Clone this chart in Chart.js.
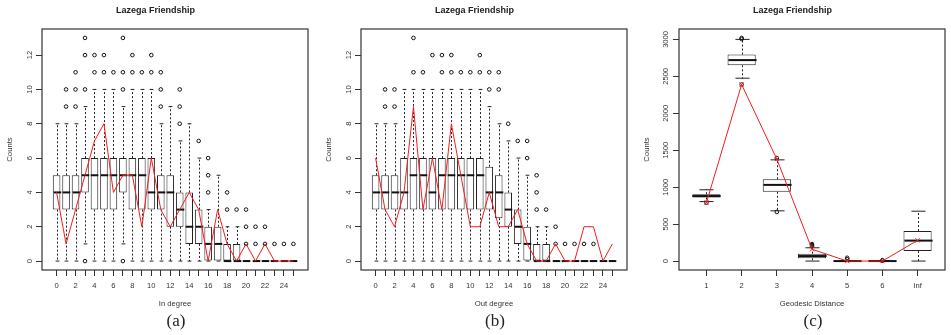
<!DOCTYPE html>
<html lang="en">
<head>
<meta charset="UTF-8">
<title>Lazega Friendship</title>
<script src="https://cdn.jsdelivr.net/npm/chart.js"></script>
<style>
  body { margin: 0; background: #fff; width: 951px; height: 335px; position: relative; overflow: hidden; }
  .panel { position: absolute; top: 0; width: 313px; height: 312px; }
  .cap { position: absolute; top: 311px; width: 40px; line-height: 20px; text-align: center;
         font-family: 'Liberation Serif', 'Times New Roman', serif; font-size: 17px; color: #222; }
</style>
</head>
<body>
<div class="panel" style="left:0px"><canvas id="chartIn"></canvas></div>
<div class="panel" style="left:319px"><canvas id="chartOut"></canvas></div>
<div class="panel" style="left:637px"><canvas id="chartGeo"></canvas></div>
<div class="cap" style="left:156px">(a)</div>
<div class="cap" style="left:475px">(b)</div>
<div class="cap" style="left:793px">(c)</div>
<script>
// degree categories (panels a and b)
const degrees = [0, 1, 2, 3, 4, 5, 6, 7, 8, 9, 10, 11, 12, 13, 14, 15, 16, 17, 18, 19, 20, 21, 22, 23, 24, 25];

// (a) in degree
const inQ1  = [3, 3, 3, 4, 3, 3, 3, 4, 3, 3, 3, 3, 2, 2, 1, 1, 0, 0, 0, 0, 0, 0, 0, 0, 0, 0];
const inMed = [4, 4, 4, 5, 5, 5, 5, 5, 5, 5, 4, 4, 4, 3, 2, 2, 1, 1, 0, 0, 0, 0, 0, 0, 0, 0];
const inQ3  = [5, 5, 5, 6, 6, 6, 6, 6, 6, 6, 6, 5, 5, 4, 4, 3, 2, 2, 1, 1, 0, 0, 0, 0, 0, 0];
const inLo  = [0, 0, 0, 1, 0, 0, 0, 1, 0, 0, 0, 0, 0, 0, 0, 0, 0, 0, 0, 0, 0, 0, 0, 0, 0, 0];
const inHi  = [8, 8, 8, 9, 10, 10, 10, 9, 10, 10, 10, 8, 9, 7, 8, 6, 3, 5, 2, 2, 0, 0, 0, 0, 0, 0];
const inOut = [[], [9, 10], [9, 10, 11], [0, 10, 12, 13], [11, 12], [11, 12], [11], [0, 10, 11, 13],
               [11, 12], [11], [11, 12], [9, 10, 11], [], [8, 9, 10], [], [7], [4, 5, 6], [], [3, 4], [3],
               [1, 2, 3], [1, 2], [1, 2], [1], [1], [1]];
const inObs = [4, 1, 3, 5, 7, 8, 4, 5, 5, 2, 6, 3, 2, 3, 4, 3, 0, 3, 1, 0, 1, 0, 1, 0, 0, 0];

// (b) out degree
const outQ1  = [3, 3, 3, 3, 3, 3, 3, 3, 3, 3, 3, 3, 3, 2.5, 2, 1, 0, 0, 0, 0, 0, 0, 0, 0, 0, 0];
const outMed = [4, 4, 4, 4, 5, 5, 4, 5, 5, 5, 5, 5, 4, 4, 3, 2, 1, 0, 0, 0, 0, 0, 0, 0, 0, 0];
const outQ3  = [5, 5, 5, 6, 6, 6, 6, 6, 6, 6, 6, 6, 5.5, 5, 4, 3, 2, 1, 1, 0, 0, 0, 0, 0, 0, 0];
const outLo  = [0, 0, 0, 0, 0, 0, 0, 0, 0, 0, 0, 0, 0, 0, 0, 0, 0, 0, 0, 0, 0, 0, 0, 0, 0, 0];
const outHi  = [8, 8, 8, 10, 10, 10, 10, 10, 10, 10, 10, 10, 9, 8, 7, 6, 5, 2, 2, 0, 0, 0, 0, 0, 0, 0];
const outOut = [[], [9, 10], [9, 10], [], [11, 13], [11], [12], [11, 12], [11, 12], [11], [11], [11, 12],
                [10, 11], [10, 11], [8], [7], [6, 7], [3, 4, 5], [3], [1, 2], [1], [1], [1], [1], [], []];
const outObs = [6, 3, 2, 4, 9, 3, 6, 3, 8, 5, 2, 2, 4, 2, 2, 3, 1, 0, 0, 1, 0, 0, 2, 2, 0, 1];

// (c) geodesic distance
const geoCats = ['1', '2', '3', '4', '5', '6', 'Inf'];
const geoQ1  = [860, 2650, 937, 37, 0, 0, 136];
const geoMed = [880, 2720, 1031, 68, 0, 0, 277];
const geoQ3  = [905, 2795, 1108, 100, 0, 0, 407];
const geoLo  = [805, 2475, 680, 0, 0, 0, 0];
const geoHi  = [965, 3000, 1370, 180, 0, 0, 675];
const geoOut = [[790], [2390, 3005, 3020], [665, 1395], [200, 215, 230], [25, 45], [5, 12], []];
const geoObs = [790, 2390, 1380, 160, 0, 0, 280];

// y tick values
const countTicks = [0, 2, 4, 6, 8, 10, 12];
const geoTicks = [0, 500, 1000, 1500, 2000, 2500, 3000];

Chart.defaults.font.family = "'Liberation Sans', Arial, sans-serif";
Chart.defaults.color = '#333';

// whiskers, staples, medians and the frame, R boxplot style
const boxLines = {
    id: 'boxLines',
    afterDatasetDraw(chart, args) {
        const ds = chart.data.datasets[args.index];
        if (!ds.stats) return;
        const s = ds.stats;
        const { ctx, scales: { x, y } } = chart;
        ctx.save();
        for (let i = 0; i < s.med.length; i++) {
            const xc = Math.round(x.getPixelForValue(i)) + 0.5;
            const half = x.getPixelForValue(i + 0.4) - x.getPixelForValue(i);
            const cap = half / 2;
            ctx.strokeStyle = '#222';
            ctx.lineWidth = 1;
            ctx.setLineDash([2, 2]);
            ctx.beginPath();
            ctx.moveTo(xc, y.getPixelForValue(s.q1[i]));
            ctx.lineTo(xc, y.getPixelForValue(s.lo[i]));
            ctx.moveTo(xc, y.getPixelForValue(s.q3[i]));
            ctx.lineTo(xc, y.getPixelForValue(s.hi[i]));
            ctx.stroke();
            ctx.setLineDash([]);
            ctx.beginPath();
            ctx.moveTo(xc - cap, y.getPixelForValue(s.lo[i]));
            ctx.lineTo(xc + cap, y.getPixelForValue(s.lo[i]));
            ctx.moveTo(xc - cap, y.getPixelForValue(s.hi[i]));
            ctx.lineTo(xc + cap, y.getPixelForValue(s.hi[i]));
            ctx.stroke();
            ctx.lineWidth = 2;
            ctx.strokeStyle = '#111';
            ctx.beginPath();
            ctx.moveTo(xc - half, y.getPixelForValue(s.med[i]));
            ctx.lineTo(xc + half, y.getPixelForValue(s.med[i]));
            ctx.stroke();
        }
        ctx.restore();
    },
    afterDatasetsDraw(chart) {
        const { ctx, chartArea: a } = chart;
        ctx.save();
        ctx.strokeStyle = '#333';
        ctx.lineWidth = 1.2;
        ctx.strokeRect(a.left, a.top, a.right - a.left, a.bottom - a.top);
        ctx.restore();
    }
};

function makePanel(id, cats, q1, med, q3, lo, hi, out, obs, xTitle, yTicks, labelStep, yPad, marks) {
    const n = cats.length;
    const allVals = lo.concat(hi, out.flat());
    const vmin = Math.min(...allVals);
    const vmax = Math.max(...allVals);
    const ext = 0.04 * (vmax - vmin);

    const outPts = [];
    out.forEach((vals, i) => vals.forEach(v => outPts.push({ x: i, y: v })));

    new Chart(document.getElementById(id), {
        type: 'bar',
        data: {
            datasets: [
                {
                    type: 'bar',
                    data: q1.map((v, i) => ({ x: i, y: [v, q3[i]] })),
                    backgroundColor: '#fff',
                    borderColor: '#222',
                    borderWidth: 1,
                    borderSkipped: false,
                    barPercentage: 0.8,
                    categoryPercentage: 1,
                    order: 3,
                    stats: { q1, med, q3, lo, hi }
                },
                {
                    type: 'line',
                    data: outPts,
                    showLine: false,
                    pointRadius: 1.8,
                    pointBorderWidth: 1,
                    pointBorderColor: '#111',
                    pointBackgroundColor: 'rgba(0,0,0,0)',
                    order: 2
                },
                {
                    type: 'line',
                    data: obs.map((v, i) => ({ x: i, y: v })),
                    borderColor: '#f01e1e',
                    borderWidth: 1,
                    tension: 0,
                    pointRadius: marks ? 3 : 0,
                    pointStyle: 'crossRot',
                    pointBorderColor: '#f01e1e',
                    pointBorderWidth: 1,
                    order: 1
                }
            ]
        },
        options: {
            responsive: true,
            maintainAspectRatio: false,
            animation: false,
            layout: { padding: { left: 0, right: 2, top: 0, bottom: 0 } },
            plugins: {
                legend: { display: false },
                tooltip: { enabled: false },
                title: {
                    display: true,
                    text: 'Lazega Friendship',
                    color: '#222',
                    font: { size: 9, weight: 'bold' },
                    padding: { top: 5.4, bottom: 12.8 }
                }
            },
            scales: {
                x: {
                    type: 'linear',
                    min: -0.5 - 0.04 * n,
                    max: n - 0.5 + 0.04 * n,
                    bounds: 'data',
                    offset: false,
                    afterBuildTicks: s => { s.ticks = cats.map((c, i) => ({ value: i })); },
                    afterFit: s => { s.height = 42; },
                    ticks: {
                        autoSkip: false,
                        minRotation: 0,
                        maxRotation: 0,
                        padding: 5.4,
                        color: '#333',
                        font: { size: 7.6 },
                        callback: (v, i) => (i % labelStep === 0 ? String(cats[i]) : '')
                    },
                    grid: { offset: false, drawOnChartArea: false, drawTicks: true, tickLength: 6, tickColor: '#333' },
                    border: { display: false },
                    title: { display: true, text: xTitle, color: '#333', font: { size: 7.7 }, padding: { top: 0, bottom: 3.4 } }
                },
                y: {
                    type: 'linear',
                    min: vmin - ext,
                    max: vmax + ext,
                    bounds: 'data',
                    afterBuildTicks: s => { s.ticks = yTicks.map(v => ({ value: v })); },
                    afterFit: s => { s.width = 42; },
                    ticks: {
                        autoSkip: false,
                        minRotation: 90,
                        maxRotation: 90,
                        crossAlign: 'center',
                        padding: yPad,
                        color: '#333',
                        font: { size: 7.6 },
                        callback: v => String(v)
                    },
                    grid: { drawOnChartArea: false, drawTicks: true, tickLength: 6, tickColor: '#333' },
                    border: { display: false },
                    title: { display: true, text: 'Counts', color: '#333', font: { size: 7.7 }, padding: { top: 5.4, bottom: 0 } }
                }
            }
        },
        plugins: [boxLines]
    });
}

makePanel('chartIn', degrees, inQ1, inMed, inQ3, inLo, inHi, inOut, inObs, 'In degree', countTicks, 2, 1.8, false);
makePanel('chartOut', degrees, outQ1, outMed, outQ3, outLo, outHi, outOut, outObs, 'Out degree', countTicks, 2, 1.8, false);
makePanel('chartGeo', geoCats, geoQ1, geoMed, geoQ3, geoLo, geoHi, geoOut, geoObs, 'Geodesic Distance', geoTicks, 1, -1.6, true);
</script>
</body>
</html>
